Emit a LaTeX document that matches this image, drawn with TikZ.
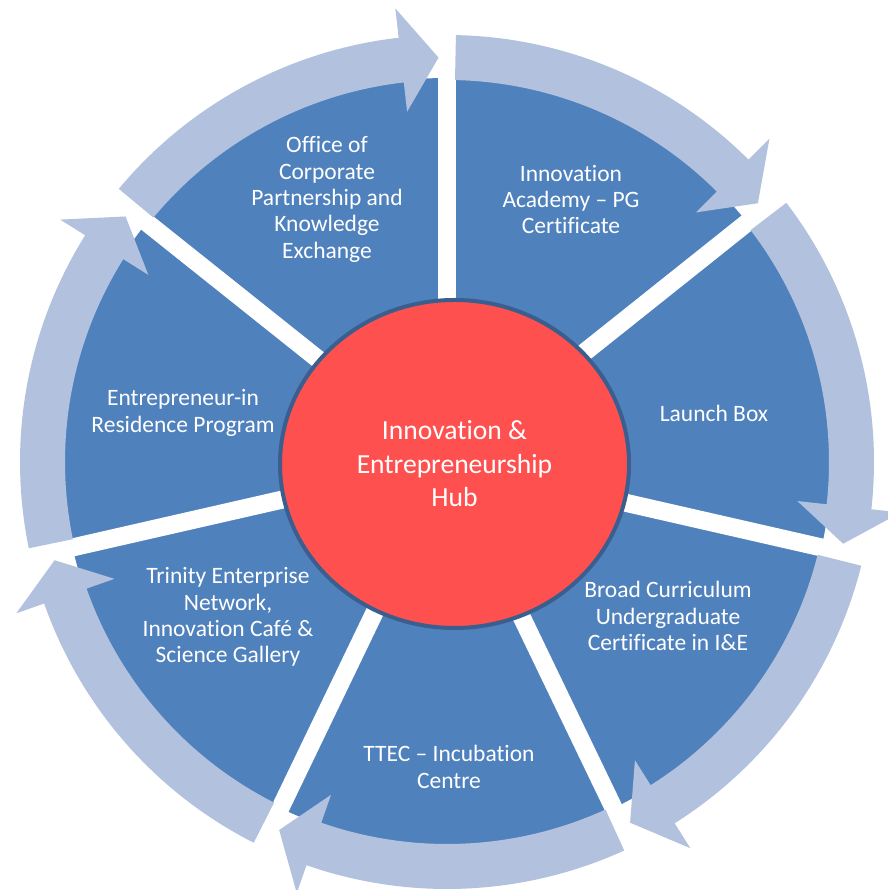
\documentclass[tikz,border=0pt]{standalone}
\usepackage{fontspec}
\setmainfont{Carlito}[Ligatures=NoCommon]
\usetikzlibrary{shapes.geometric}
\definecolor{pieblue}{HTML}{4F81BD}
\definecolor{ringblue}{HTML}{B2C1DE}
\definecolor{hubred}{HTML}{FF5050}
\definecolor{hubedge}{HTML}{3A5F8E}
\tikzset{
  sectortext/.style={text=white, align=center, inner sep=0pt, font=\fontsize{23.5}{26.3}\selectfont},
  hubnode/.style={ellipse, draw=hubedge, line width=4pt, fill=hubred, text=white, align=center, inner sep=0pt,
    minimum width=349pt, minimum height=328pt, font=\fontsize{27.6}{33.5}\selectfont},
  gapline/.style={white, line width=18pt},
  ringarrow/.style={fill=ringblue}
}
\begin{document}
\begin{tikzpicture}[x=1pt,y=1pt]
\useasboundingbox (0,0) rectangle (887,890);
\fill[white] (0,0) rectangle (887,890);
\begin{scope}[shift={(447,428)}]
  \coordinate (C) at (0,0);
  \fill[pieblue] (C) circle[radius=384];
  \foreach \i in {0,...,6}{
    \pgfmathsetmacro{\ga}{90-51.428571*\i}
    \coordinate (g\i) at (\ga:392);
    \draw[gapline] (C) -- (g\i);
  }
  \foreach \i in {0,...,6}{
    \pgfmathsetmacro{\aa}{90-51.428571*\i-1.2}
    \pgfmathsetmacro{\at}{90-51.428571*(\i+1)+1.2}
    \pgfmathsetmacro{\ab}{\at+5.3}
    \fill[ringarrow] (\aa:427) arc[start angle=\aa, end angle=\ab, radius=427]
      -- (\ab:456.5) -- (\at:404.5) -- (\ab:352.5) -- (\ab:382)
      arc[start angle=\ab, end angle=\aa, radius=382] -- cycle;
  }
\end{scope}
\node[hubnode] (hub) at (454.5,426) {Innovation \&\\Entrepreneurship\\Hub};
\node[sectortext] (office) at (327,690.5) {Office of\\Corporate\\Partnership and\\Knowledge\\Exchange};
\node[sectortext] (academy) at (571,690.5) {Innovation\\Academy – PG\\Certificate};
\node[sectortext] (launch) at (714,477) {Launch Box};
\node[sectortext] (broad) at (668,274) {Broad Curriculum\\Undergraduate\\Certificate in I\&E};
\node[sectortext] (ttec) at (449,123) {TTEC – Incubation\\Centre};
\node[sectortext] (trinity) at (228,273) {Trinity Enterprise\\Network,\\Innovation Café \&\\Science Gallery};
\node[sectortext] (entre) at (183,477) {Entrepreneur-in\\Residence Program};
\end{tikzpicture}
\end{document}
